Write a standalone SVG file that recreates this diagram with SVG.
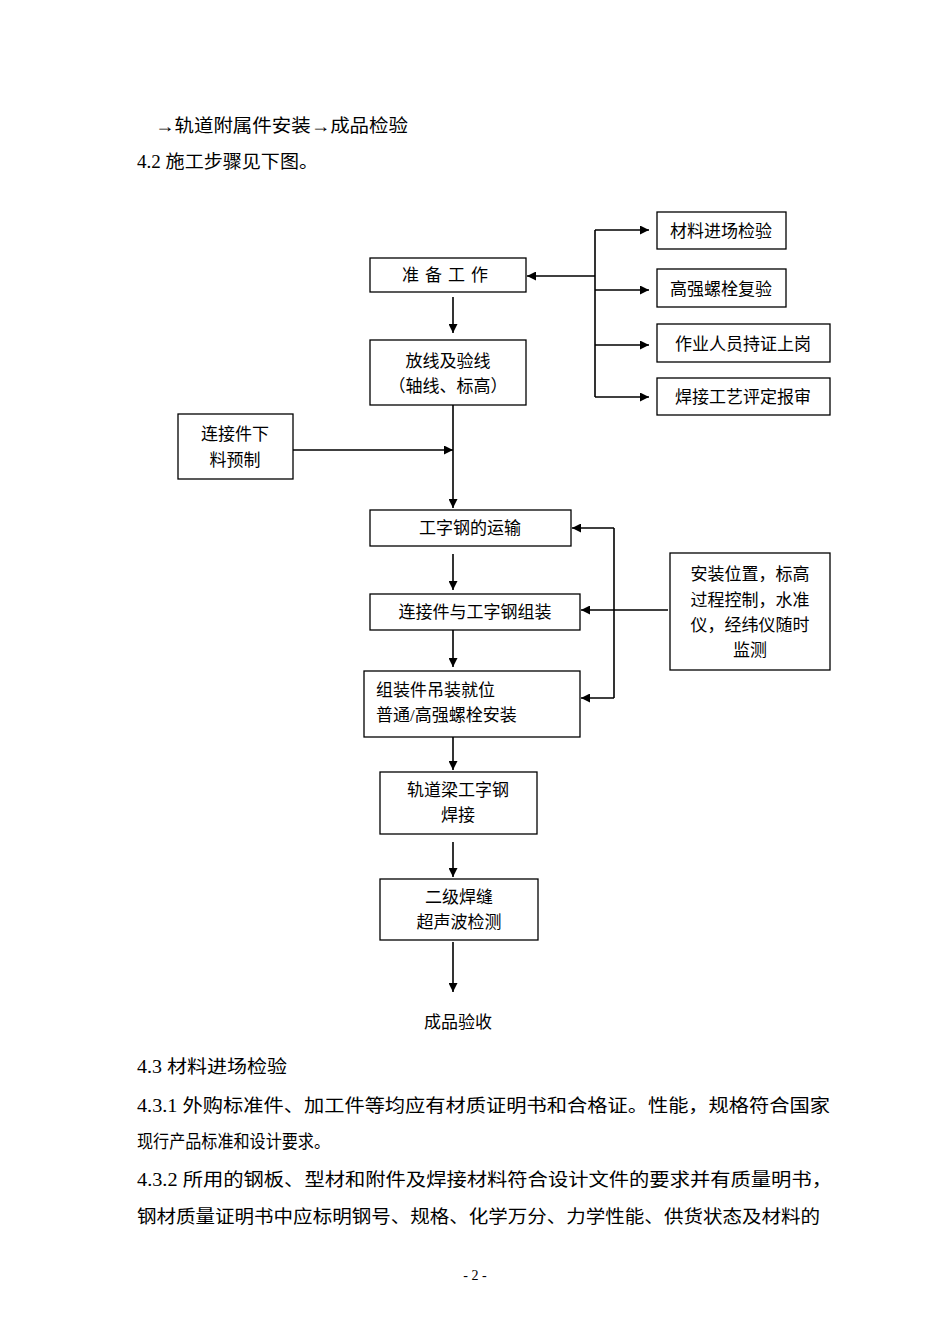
<svg xmlns="http://www.w3.org/2000/svg" width="950" height="1344" viewBox="0 0 950 1344">
<defs>
<marker id="ah" viewBox="0 0 10 10" refX="10" refY="5" markerWidth="9" markerHeight="9" markerUnits="userSpaceOnUse" orient="auto"><path d="M0,0 L10,5 L0,10 z" fill="#000"/></marker>
<style>
text{font-family:"Liberation Serif","Noto Sans CJK SC",serif;font-size:17px;fill:#000}
.p{font-size:18px}
.b{fill:#fff;stroke:#000;stroke-width:1.3}
.c{text-anchor:middle}
.l{stroke:#000;stroke-width:1.6;fill:none}
.a{stroke:#000;stroke-width:1.6;fill:none;marker-end:url(#ah)}
</style>
</defs>
<rect width="950" height="1344" fill="#fff"/>
<g id="page-text">
<text class="p" x="155" y="132" textLength="253" lengthAdjust="spacingAndGlyphs">→轨道附属件安装→成品检验</text>
<text class="p" x="137" y="168" textLength="181" lengthAdjust="spacingAndGlyphs">4.2 施工步骤见下图。</text>
<text class="p" x="137" y="1073" textLength="150" lengthAdjust="spacingAndGlyphs">4.3 材料进场检验</text>
<text class="p" x="137" y="1112" textLength="693" lengthAdjust="spacingAndGlyphs">4.3.1 外购标准件、加工件等均应有材质证明书和合格证。性能，规格符合国家</text>
<text class="p" x="137" y="1148" textLength="193" lengthAdjust="spacingAndGlyphs">现行产品标准和设计要求。</text>
<text class="p" x="137" y="1186" textLength="695" lengthAdjust="spacingAndGlyphs">4.3.2 所用的钢板、型材和附件及焊接材料符合设计文件的要求并有质量明书，</text>
<text class="p" x="137" y="1223" textLength="683" lengthAdjust="spacingAndGlyphs">钢材质量证明书中应标明钢号、规格、化学万分、力学性能、供货状态及材料的</text>
<text x="475" y="1280" class="c" style="font-size:14px">- 2 -</text>
</g>
<g id="connectors">
<path class="l" d="M595,230 V397"/>
<path class="a" d="M595,230 H649"/>
<path class="a" d="M595,290 H649"/>
<path class="a" d="M595,345 H649"/>
<path class="a" d="M595,397 H649"/>
<path class="a" d="M595,276 H527"/>
<path class="a" d="M453,297 V333"/>
<path class="a" d="M453,405 V508"/>
<path class="a" d="M293,450 H453"/>
<path class="a" d="M453,554 V590"/>
<path class="a" d="M453,630 V667"/>
<path class="a" d="M453,737 V770"/>
<path class="a" d="M453,842 V877"/>
<path class="a" d="M453,942 V992"/>
<path class="l" d="M614,528 V698"/>
<path class="a" d="M614,528 H572"/>
<path class="a" d="M614,698 H581"/>
<path class="a" d="M668,610 H581"/>
</g>
<g id="n1"><rect class="b" x="370" y="258" width="156" height="34"/><text class="c" x="448" y="281" style="letter-spacing:6px">准备工作</text></g>
<g id="n2"><rect class="b" x="370" y="340" width="156" height="65"/><text class="c" x="448" y="367">放线及验线</text><text class="c" x="448" y="392">（轴线、标高）</text></g>
<g id="r1"><rect class="b" x="657" y="212" width="129" height="37"/><text class="c" x="721" y="237">材料进场检验</text></g>
<g id="r2"><rect class="b" x="657" y="269" width="129" height="38"/><text class="c" x="721" y="295">高强螺栓复验</text></g>
<g id="r3"><rect class="b" x="657" y="324" width="173" height="38"/><text class="c" x="743" y="350">作业人员持证上岗</text></g>
<g id="r4"><rect class="b" x="657" y="378" width="173" height="37"/><text class="c" x="743" y="403">焊接工艺评定报审</text></g>
<g id="l1"><rect class="b" x="178" y="414" width="115" height="65"/><text class="c" x="235" y="440">连接件下</text><text class="c" x="235" y="466">料预制</text></g>
<g id="n3"><rect class="b" x="370" y="510" width="201" height="36"/><text class="c" x="470" y="534">工字钢的运输</text></g>
<g id="n4"><rect class="b" x="370" y="594" width="210" height="36"/><text class="c" x="475" y="618">连接件与工字钢组装</text></g>
<g id="n5"><rect class="b" x="364" y="671" width="216" height="66"/><text x="376" y="696">组装件吊装就位</text><text x="376" y="721">普通/高强螺栓安装</text></g>
<g id="m1"><rect class="b" x="670" y="553" width="160" height="117"/><text class="c" x="750" y="580">安装位置，标高</text><text class="c" x="750" y="606">过程控制，水准</text><text class="c" x="750" y="631">仪，经纬仪随时</text><text class="c" x="750" y="656">监测</text></g>
<g id="n6"><rect class="b" x="380" y="772" width="157" height="62"/><text class="c" x="458" y="796">轨道梁工字钢</text><text class="c" x="458" y="821">焊接</text></g>
<g id="n7"><rect class="b" x="380" y="879" width="158" height="61"/><text class="c" x="459" y="903">二级焊缝</text><text class="c" x="459" y="928">超声波检测</text></g>
<g id="n8"><text class="c" x="458" y="1028">成品验收</text></g>
</svg>
